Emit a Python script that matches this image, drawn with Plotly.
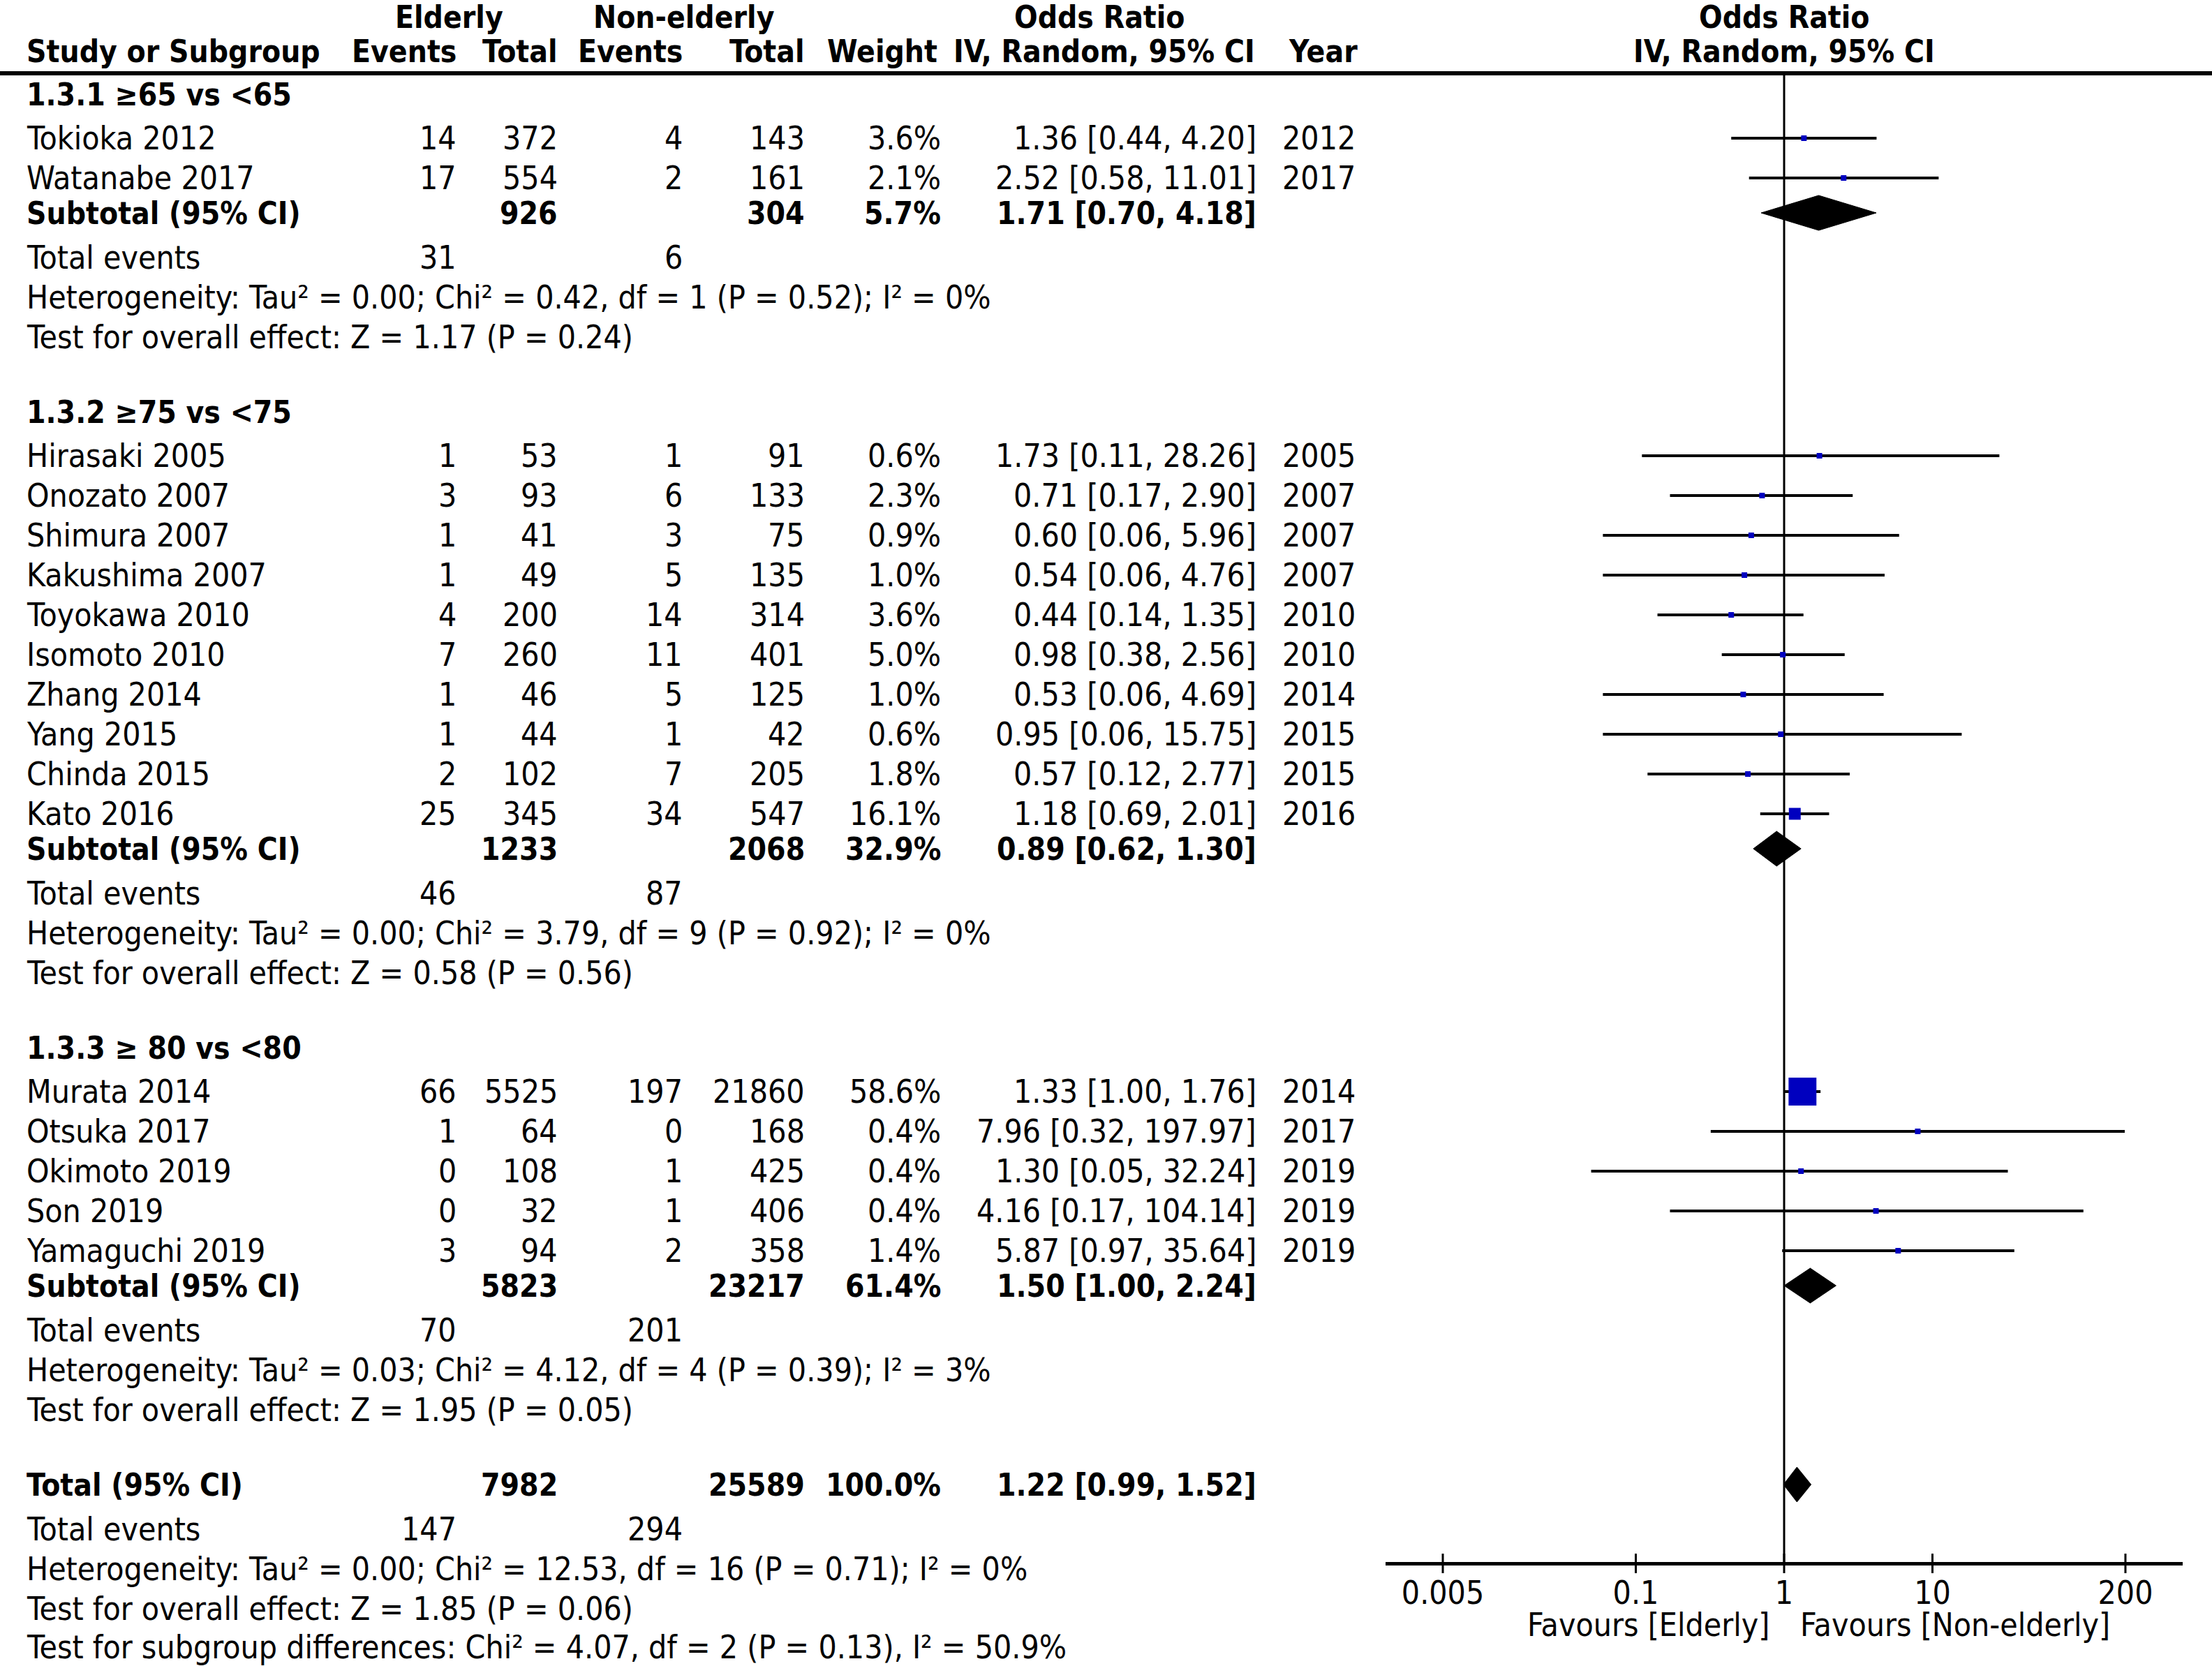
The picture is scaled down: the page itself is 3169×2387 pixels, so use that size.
import math
import plotly.graph_objects as go

W, H = 3169, 2387
FONT = "DejaVu Sans Condensed, DejaVu Sans, sans-serif"
FS = 46      # texte normal
FS_B = 44    # texte gras

# --- Données ---
group_titles = ["1.3.1 ≥65 vs &lt;65", "1.3.2 ≥75 vs &lt;75", "1.3.3 ≥ 80 vs &lt;80"]
study_group = [0, 0, 1, 1, 1, 1, 1, 1, 1, 1, 1, 1, 2, 2, 2, 2, 2]
study_names = ["Tokioka 2012", "Watanabe 2017", "Hirasaki 2005", "Onozato 2007", "Shimura 2007",
               "Kakushima 2007", "Toyokawa 2010", "Isomoto 2010", "Zhang 2014", "Yang 2015",
               "Chinda 2015", "Kato 2016", "Murata 2014", "Otsuka 2017", "Okimoto 2019",
               "Son 2019", "Yamaguchi 2019"]
eld_events = [14, 17, 1, 3, 1, 1, 4, 7, 1, 1, 2, 25, 66, 1, 0, 0, 3]
eld_total = [372, 554, 53, 93, 41, 49, 200, 260, 46, 44, 102, 345, 5525, 64, 108, 32, 94]
non_events = [4, 2, 1, 6, 3, 5, 14, 11, 5, 1, 7, 34, 197, 0, 1, 1, 2]
non_total = [143, 161, 91, 133, 75, 135, 314, 401, 125, 42, 205, 547, 21860, 168, 425, 406, 358]
weights = [3.6, 2.1, 0.6, 2.3, 0.9, 1.0, 3.6, 5.0, 1.0, 0.6, 1.8, 16.1, 58.6, 0.4, 0.4, 0.4, 1.4]
odds = [1.36, 2.52, 1.73, 0.71, 0.60, 0.54, 0.44, 0.98, 0.53, 0.95, 0.57, 1.18, 1.33, 7.96, 1.30, 4.16, 5.87]
ci_low = [0.44, 0.58, 0.11, 0.17, 0.06, 0.06, 0.14, 0.38, 0.06, 0.06, 0.12, 0.69, 1.00, 0.32, 0.05, 0.17, 0.97]
ci_high = [4.20, 11.01, 28.26, 2.90, 5.96, 4.76, 1.35, 2.56, 4.69, 15.75, 2.77, 2.01, 1.76, 197.97, 32.24, 104.14, 35.64]
years = [2012, 2017, 2005, 2007, 2007, 2007, 2010, 2010, 2014, 2015, 2015, 2016, 2014, 2017, 2019, 2019, 2019]

# sous-totaux : 3 sous-groupes puis le total global
sub_eld_total = [926, 1233, 5823, 7982]
sub_non_total = [304, 2068, 23217, 25589]
sub_weight = [5.7, 32.9, 61.4, 100.0]
sub_or = [1.71, 0.89, 1.50, 1.22]
sub_low = [0.70, 0.62, 1.00, 0.99]
sub_high = [4.18, 1.30, 2.24, 1.52]
sub_eld_events = [31, 46, 70, 147]
sub_non_events = [6, 87, 201, 294]
heterogeneity = [
    "Heterogeneity: Tau² = 0.00; Chi² = 0.42, df = 1 (P = 0.52); I² = 0%",
    "Heterogeneity: Tau² = 0.00; Chi² = 3.79, df = 9 (P = 0.92); I² = 0%",
    "Heterogeneity: Tau² = 0.03; Chi² = 4.12, df = 4 (P = 0.39); I² = 3%",
    "Heterogeneity: Tau² = 0.00; Chi² = 12.53, df = 16 (P = 0.71); I² = 0%",
]
overall_test = [
    "Test for overall effect: Z = 1.17 (P = 0.24)",
    "Test for overall effect: Z = 0.58 (P = 0.56)",
    "Test for overall effect: Z = 1.95 (P = 0.05)",
    "Test for overall effect: Z = 1.85 (P = 0.06)",
]
subgroup_diff = "Test for subgroup differences: Chi² = 4.07, df = 2 (P = 0.13), I² = 50.9%"

tick_vals = [0.005, 0.1, 1, 10, 200]
tick_text = ["0.005", "0.1", "1", "10", "200"]

# --- Colonnes (px depuis la gauche) ---
X_NAME, X_EV1, X_TOT1, X_EV2, X_TOT2 = 36, 656, 801, 980, 1155
X_W, X_OR, X_YEAR = 1350, 1802, 1944
AX_L, AX_R = 1985, 3127
AX_Y = 2240
LINE_TOP = 105

# --- Positions verticales des lignes ---
R = 57
y = 135
group_y, study_y, sub_y, te_y, het_y, test_y = [], [], [], [], [], []
for g in range(3):
    group_y.append(y)
    y += 63
    idx = [i for i, sg in enumerate(study_group) if sg == g]
    for k, i in enumerate(idx):
        study_y.append(y)
        y += R if k < len(idx) - 1 else 0
    y += 50
    sub_y.append(y)
    y += 64
    te_y.append(y)
    y += R
    het_y.append(y)
    y += R
    test_y.append(y)
    y += 107
sub_y.append(y)
y += 64
te_y.append(y)
y += R
het_y.append(y)
y += R
test_y.append(y)
y += R
diff_y = y

annotations = []


def txt(x, yy, s, anchor="left", bold=False, xref="paper", xshift=0):
    annotations.append(dict(
        x=x / W if xref == "paper" else x, xref=xref, y=yy, yref="y",
        text=f"<b>{s}</b>" if bold else s, xanchor=anchor, yanchor="middle",
        xshift=xshift, showarrow=False,
        font=dict(family=FONT, size=FS_B if bold else FS, color="black"),
    ))


# En-têtes
H1, H2 = 24, 73
txt(643, H1, "Elderly", "center", True)
txt(980, H1, "Non-elderly", "center", True)
txt(1575, H1, "Odds Ratio", "center", True)
txt(2556, H1, "Odds Ratio", "center", True)
txt(X_NAME, H2, "Study or Subgroup", "left", True)
txt(X_EV1, H2, "Events", "right", True)
txt(X_TOT1, H2, "Total", "right", True)
txt(X_EV2, H2, "Events", "right", True)
txt(X_TOT2, H2, "Total", "right", True)
txt(1345, H2, "Weight", "right", True)
txt(1800, H2, "IV, Random, 95% CI", "right", True)
txt(1947, H2, "Year", "right", True)
txt(2556, H2, "IV, Random, 95% CI", "center", True)

# Études
for i, name in enumerate(study_names):
    yy = study_y[i]
    txt(X_NAME, yy, name)
    txt(X_EV1, yy, str(eld_events[i]), "right")
    txt(X_TOT1, yy, str(eld_total[i]), "right")
    txt(X_EV2, yy, str(non_events[i]), "right")
    txt(X_TOT2, yy, str(non_total[i]), "right")
    txt(X_W, yy, f"{weights[i]:.1f}%", "right")
    txt(X_OR, yy, f"{odds[i]:.2f} [{ci_low[i]:.2f}, {ci_high[i]:.2f}]", "right")
    txt(X_YEAR, yy, str(years[i]), "right")

# Sous-groupes et total
for g in range(4):
    if g < 3:
        txt(X_NAME, group_y[g], group_titles[g], bold=True)
        label = "Subtotal (95% CI)"
    else:
        label = "Total (95% CI)"
    txt(X_NAME, sub_y[g], label, bold=True)
    txt(X_TOT1, sub_y[g], str(sub_eld_total[g]), "right", True)
    txt(X_TOT2, sub_y[g], str(sub_non_total[g]), "right", True)
    txt(X_W, sub_y[g], f"{sub_weight[g]:.1f}%", "right", True)
    txt(X_OR, sub_y[g], f"{sub_or[g]:.2f} [{sub_low[g]:.2f}, {sub_high[g]:.2f}]", "right", True)
    txt(X_NAME, te_y[g], "Total events")
    txt(X_EV1, te_y[g], str(sub_eld_events[g]), "right")
    txt(X_EV2, te_y[g], str(sub_non_events[g]), "right")
    txt(X_NAME, het_y[g], heterogeneity[g])
    txt(X_NAME, test_y[g], overall_test[g])
txt(X_NAME, diff_y - 2, subgroup_diff)

# Légende de l'axe
FAV_Y = 2328
txt(1, FAV_Y, "Favours [Elderly]", "right", xref="x", xshift=-19)
txt(1, FAV_Y, "Favours [Non-elderly]", "left", xref="x", xshift=21)
for a in annotations[-2:]:
    a["x"] = 0  # log10(1)

fig = go.Figure()

# Ligne verticale OR = 1
fig.add_trace(go.Scatter(x=[1, 1], y=[LINE_TOP, AX_Y], mode="lines",
                         line=dict(color="black", width=3), hoverinfo="skip"))

# Intervalles de confiance
ci_x, ci_y = [], []
for i in range(len(odds)):
    ci_x += [ci_low[i], ci_high[i], None]
    ci_y += [study_y[i], study_y[i], None]
fig.add_trace(go.Scatter(x=ci_x, y=ci_y, mode="lines",
                         line=dict(color="black", width=4), hoverinfo="skip"))

# Carrés pondérés
sizes = [max(8, 6.3 * math.sqrt(w) - 8.3) for w in weights]
fig.add_trace(go.Scatter(x=odds, y=study_y, mode="markers",
                         marker=dict(symbol="square", size=sizes, color="#0000BF",
                                     opacity=1, line=dict(width=0))))

# Losanges
DH = 25
for g in range(4):
    c = sub_y[g]
    fig.add_trace(go.Scatter(
        x=[sub_low[g], sub_or[g], sub_high[g], sub_or[g], sub_low[g]],
        y=[c, c - DH, c, c + DH, c],
        mode="lines", fill="toself", fillcolor="black",
        line=dict(color="black", width=1), hoverinfo="skip"))

# Graduations qui traversent l'axe
tk_x, tk_y = [], []
for v in tick_vals:
    tk_x += [v, v, None]
    tk_y += [AX_Y - 14, AX_Y + 14, None]
fig.add_trace(go.Scatter(x=tk_x, y=tk_y, mode="lines",
                         line=dict(color="black", width=3), hoverinfo="skip"))

span = (AX_R - AX_L) / 2 / 212.5
fig.update_layout(
    width=W, height=H,
    margin=dict(l=0, r=0, t=0, b=0),
    paper_bgcolor="white", plot_bgcolor="white",
    showlegend=False,
    annotations=annotations,
    shapes=[dict(type="line", xref="paper", yref="y", x0=0, x1=1, y0=LINE_TOP, y1=LINE_TOP,
                 line=dict(color="black", width=6))],
    xaxis=dict(type="log", range=[-span, span], domain=[AX_L / W, AX_R / W],
               anchor="free", position=(H - AX_Y) / H,
               showline=True, linecolor="black", linewidth=5,
               ticks="", tickvals=tick_vals, ticktext=tick_text,
               tickfont=dict(family=FONT, size=FS, color="black"),
               showgrid=False, zeroline=False),
    yaxis=dict(range=[H, 0], domain=[0, 1], visible=False, showgrid=False),
)

fig.write_html("out.html", config={"displayModeBar": False},
               post_script="document.body.style.margin='0';")
